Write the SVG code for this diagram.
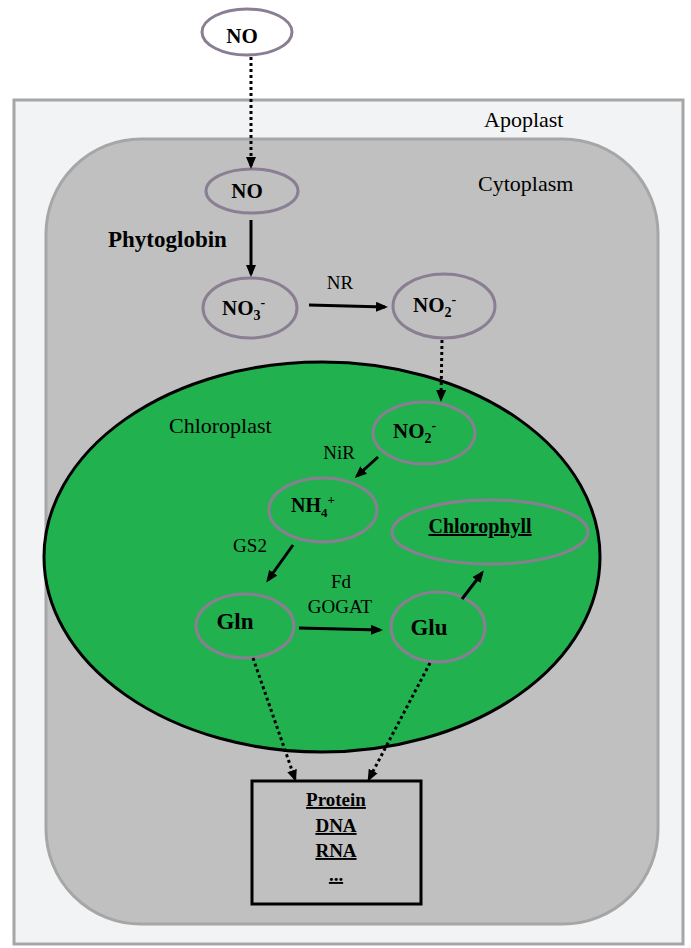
<svg xmlns="http://www.w3.org/2000/svg" width="691" height="948" viewBox="0 0 691 948">
<style>
.node{fill:none;stroke:#8a7f92;stroke-width:3}
.lbl{font-family:"Liberation Serif","Times New Roman",serif;fill:#000}
.b{font-weight:bold}
.solid{stroke:#000;stroke-width:3;fill:none}
.dot{stroke:#000;stroke-width:3;fill:none;stroke-dasharray:3 3}
</style>
<defs>
<marker id="ah" markerUnits="userSpaceOnUse" markerWidth="12" markerHeight="10" refX="9" refY="5" orient="auto">
<path d="M0,0 L12,5 L0,10 z" fill="#000"/>
</marker>
</defs>
<rect id="apoplast" x="14" y="100" width="669" height="844" fill="#f2f3f5" stroke="#a6a6a6" stroke-width="3"/>
<rect id="cytoplasm" x="46" y="139" width="612" height="785" rx="95" ry="95" fill="#c0c0c0" stroke="#a6a6a6" stroke-width="3"/>
<ellipse id="chloroplast" cx="322" cy="557" rx="278" ry="195" fill="#21b14f" stroke="#000" stroke-width="3"/>
<g id="region-labels">
<text class="lbl" x="484" y="127" font-size="22">Apoplast</text>
<text class="lbl" x="478" y="191" font-size="22">Cytoplasm</text>
<text class="lbl" x="169" y="433" font-size="22">Chloroplast</text>
<text class="lbl b" x="108" y="247" font-size="23">Phytoglobin</text>
<text class="lbl" x="340" y="289" font-size="19" text-anchor="middle">NR</text>
<text class="lbl" x="339" y="459" font-size="19" text-anchor="middle">NiR</text>
<text class="lbl" x="250" y="552" font-size="19" text-anchor="middle">GS2</text>
<text class="lbl" x="341" y="588" font-size="19" text-anchor="middle">Fd</text>
<text class="lbl" x="340" y="613" font-size="19" text-anchor="middle">GOGAT</text>
</g>
<g id="no-out">
<ellipse class="node" cx="247" cy="32" rx="45" ry="23"/>
<text class="lbl b" x="242" y="43" font-size="21" text-anchor="middle">NO</text>
</g>
<g id="no-in">
<ellipse class="node" cx="252" cy="191" rx="46" ry="22"/>
<text class="lbl b" x="247" y="198" font-size="21" text-anchor="middle">NO</text>
</g>
<g id="no3">
<ellipse class="node" cx="250" cy="308" rx="47" ry="30"/>
<text class="lbl b" x="222" y="315" font-size="21">NO<tspan font-size="14" dy="5">3</tspan><tspan font-size="14" dy="-13">-</tspan></text>
</g>
<g id="no2-cyt">
<ellipse class="node" cx="444" cy="306" rx="51" ry="32"/>
<text class="lbl b" x="413" y="312" font-size="21">NO<tspan font-size="14" dy="5">2</tspan><tspan font-size="14" dy="-13">-</tspan></text>
</g>
<g id="no2-chl">
<ellipse class="node" cx="424" cy="433" rx="51" ry="31"/>
<text class="lbl b" x="393" y="438" font-size="21">NO<tspan font-size="14" dy="5">2</tspan><tspan font-size="14" dy="-13">-</tspan></text>
</g>
<g id="nh4">
<ellipse class="node" cx="323" cy="510" rx="54" ry="32"/>
<text class="lbl b" x="291" y="512" font-size="20">NH<tspan font-size="13" dy="5">4</tspan><tspan font-size="13" dy="-13">+</tspan></text>
</g>
<g id="chlorophyll">
<ellipse class="node" cx="490" cy="532" rx="98" ry="32"/>
<text class="lbl b" x="480" y="533" font-size="20" text-anchor="middle" text-decoration="underline">Chlorophyll</text>
</g>
<g id="gln">
<ellipse class="node" cx="245" cy="626" rx="49" ry="32"/>
<text class="lbl b" x="235" y="629" font-size="23" text-anchor="middle">Gln</text>
</g>
<g id="glu">
<ellipse class="node" cx="438" cy="627" rx="47" ry="35"/>
<text class="lbl b" x="429" y="635" font-size="23" text-anchor="middle">Glu</text>
</g>
<g id="products">
<rect x="252" y="781" width="169" height="123" fill="none" stroke="#000" stroke-width="3"/>
<text class="lbl b" x="336" y="806" font-size="19" text-anchor="middle" text-decoration="underline">Protein</text>
<text class="lbl b" x="336" y="832" font-size="19" text-anchor="middle" text-decoration="underline">DNA</text>
<text class="lbl b" x="336" y="857" font-size="19" text-anchor="middle" text-decoration="underline">RNA</text>
<text class="lbl b" x="336" y="881" font-size="19" text-anchor="middle" text-decoration="underline">...</text>
</g>
<g id="connectors">
<line class="dot" x1="251" y1="57" x2="251" y2="166" marker-end="url(#ah)"/>
<line class="solid" x1="251" y1="220" x2="251" y2="274" marker-end="url(#ah)"/>
<line class="solid" x1="309" y1="305" x2="385" y2="307" marker-end="url(#ah)"/>
<line class="dot" x1="442" y1="340" x2="441" y2="399" marker-end="url(#ah)"/>
<line class="solid" x1="378" y1="457" x2="357" y2="476" marker-end="url(#ah)"/>
<line class="solid" x1="293" y1="545" x2="268" y2="580" marker-end="url(#ah)"/>
<line class="solid" x1="299" y1="628" x2="380" y2="630" marker-end="url(#ah)"/>
<line class="solid" x1="462" y1="599" x2="482" y2="573" marker-end="url(#ah)"/>
<line class="dot" x1="253" y1="658" x2="295" y2="779" marker-end="url(#ah)"/>
<line class="dot" x1="430" y1="663" x2="369" y2="779" marker-end="url(#ah)"/>
</g>
</svg>
